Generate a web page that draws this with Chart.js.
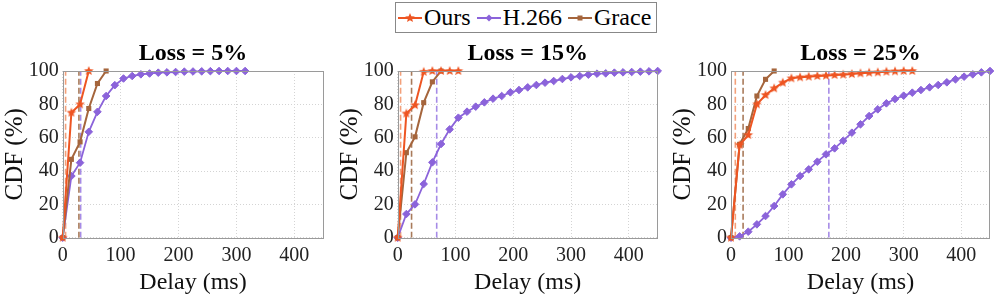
<!DOCTYPE html>
<html>
<head>
<meta charset="utf-8">
<script src="https://cdn.jsdelivr.net/npm/chart.js@4.4.1/dist/chart.umd.min.js"></script>
<style>
  body { margin: 0; background: #fff; }
  #wrap { position: relative; width: 996px; height: 297px; overflow: hidden; font-family: "Liberation Serif", "Times New Roman", Tinos, "DejaVu Serif", serif; }
  .panel { position: absolute; top: 0; height: 297px; }
  #legend {
    position: absolute; left: 395px; top: 2px; height: 29px;
    border: 1px solid #888; display: flex; align-items: center;
    padding: 0 5px 0 2px; font-size: 24px; background: #fff; z-index: 2;
  }
  .item { display: flex; align-items: center; margin-right: 6px; }
  .item:last-child { margin-right: 0; }
  .item svg { margin-right: 1px; }
</style>
</head>
<body>
<div id="wrap">
  <div id="legend"></div>
  <div class="panel" style="left:0;width:330px"><canvas id="c1"></canvas></div>
  <div class="panel" style="left:335px;width:330px"><canvas id="c2"></canvas></div>
  <div class="panel" style="left:668px;width:328px"><canvas id="c3"></canvas></div>
</div>
<script>
// delay samples (ms) shared by all curves
const delays = [0, 15, 30, 45, 60, 75, 90, 105, 120, 135, 150, 165, 180, 195, 210, 225,
  240, 255, 270, 285, 300, 315, 330, 345, 360, 375, 390, 405, 420, 435, 450];

const delayTicks = [0, 100, 200, 300, 400];
const cdfTicks = [0, 20, 40, 60, 80, 100];
const lossTitles = ["Loss = 5%", "Loss = 15%", "Loss = 25%"];

// CDF (%) values
const ours5 = [0, 75, 80, 100];
const h266_5 = [0, 37, 45, 63.5, 75.5, 85, 91.5, 95.5, 97, 98, 98.5, 99, 99.2, 99.4, 99.6, 99.7,
  99.8, 99.9, 100, 100, 100, 100];
const grace5 = [0, 47, 57.5, 77.5, 92.5, 100];

const ours15 = [0, 74.5, 79.5, 99.5, 100, 100, 100, 100];
const h266_15 = [0, 14.2, 20, 32.2, 45.2, 56.2, 65, 72, 75.6, 78.6, 81.2, 83.4, 85, 87.2, 88.6, 90.2,
  91.6, 93, 94, 95.2, 96.2, 97, 97.8, 98.4, 98.6, 99, 99.2, 99.4, 99.6, 99.8, 100];
const grace15 = [0, 51, 60.5, 81, 93.5, 100];

const ours25 = [0, 55.6, 61.6, 80, 85.6, 89.6, 93, 95.6, 96.2, 96.6, 97, 97.2, 97.6, 97.8, 98.2, 98.6,
  99, 99.2, 99.6, 99.8, 100, 100];
const h266_25 = [0, 0.8, 3.6, 8, 13, 19, 26, 32, 37, 41, 45.6, 50, 53.6, 58.2, 63, 68,
  73, 77, 80.6, 83.2, 85.2, 87, 88.6, 90.2, 91.6, 93.2, 95, 96.6, 98, 99.2, 100];
const grace25 = [0, 56, 65.5, 85, 95, 100];

// median markers (ms), one per panel
const medOurs = [5, 5, 7.5];
const medH266 = [31, 67.5, 170];
const medGrace = [28, 24, 21];

const cOurs = "#ee5522";
const cH266 = "#8b63da";
const cGrace = "#a5653c";
const fontName = "'Liberation Serif', 'Times New Roman', Tinos, 'DejaVu Serif', serif";

function makeStar(color, r) {
  const s = Math.ceil(r * 2) + 2;
  const c = document.createElement("canvas");
  c.width = c.height = s;
  const ctx = c.getContext("2d");
  ctx.beginPath();
  for (let i = 0; i < 10; i++) {
    const a = -Math.PI / 2 + i * Math.PI / 5;
    const rr = i % 2 === 0 ? r : r * 0.45;
    ctx.lineTo(s / 2 + rr * Math.cos(a), s / 2 + rr * Math.sin(a));
  }
  ctx.closePath();
  ctx.fillStyle = color;
  ctx.fill();
  return c;
}
const star = makeStar(cOurs, 5);

// legend
const legendItems = [
  ["Ours", cOurs, "star"],
  ["H.266", cH266, "diamond"],
  ["Grace", cGrace, "square"]
];
const legend = document.getElementById("legend");
legendItems.forEach(([label, color, shape]) => {
  let mark = "";
  if (shape === "star") {
    const pts = [];
    for (let i = 0; i < 10; i++) {
      const a = -Math.PI / 2 + i * Math.PI / 5;
      const rr = i % 2 === 0 ? 5 : 2.3;
      pts.push((12 + rr * Math.cos(a)).toFixed(2) + "," + (7 + rr * Math.sin(a)).toFixed(2));
    }
    mark = `<polygon points="${pts.join(" ")}" fill="${color}"/>`;
  } else if (shape === "diamond") {
    mark = `<polygon points="12,3.5 15.5,7 12,10.5 8.5,7" fill="${color}"/>`;
  } else {
    mark = `<rect x="9.5" y="4.5" width="5" height="5" fill="${color}"/>`;
  }
  const el = document.createElement("div");
  el.className = "item";
  el.innerHTML = `<svg width="25" height="14"><line x1="0" y1="7" x2="24" y2="7" stroke="${color}" stroke-width="2"/>${mark}</svg><span>${label}</span>`;
  legend.appendChild(el);
});

const boxPlugin = {
  id: "box",
  afterDraw(chart) {
    const a = chart.chartArea;
    const ctx = chart.ctx;
    ctx.save();
    ctx.strokeStyle = "#9a9a9a";
    ctx.lineWidth = 1;
    ctx.strokeRect(Math.round(a.left) + 0.5, Math.round(a.top) + 0.5,
      Math.round(a.right - a.left) - 1, Math.round(a.bottom - a.top));
    ctx.restore();
  }
};

function pts(values) {
  return values.map((v, i) => ({ x: delays[i], y: v }));
}
function vline(x) {
  return [{ x: x, y: 0 }, { x: x, y: 100 }];
}

function makeChart(id, k, ours, h266, grace, yWidth, padRight) {
  const dashed = (x, color) => ({
    data: vline(x), borderColor: color, borderWidth: 1.6, borderDash: [6, 3],
    pointRadius: 0, showLine: true, order: 5
  });
  new Chart(document.getElementById(id), {
    type: "scatter",
    data: {
      datasets: [
        dashed(medOurs[k], "#f3a07a"),
        dashed(medGrace[k], "#a87a5a"),
        dashed(medH266[k], "#a68be6"),
        {
          data: pts(h266), borderColor: cH266, backgroundColor: cH266, borderWidth: 1.8,
          pointStyle: "rectRot", pointRadius: 3.8, pointBorderWidth: 1, showLine: true, clip: false, order: 3
        },
        {
          data: pts(grace), borderColor: cGrace, backgroundColor: cGrace, borderWidth: 2,
          pointStyle: "rect", pointRadius: 3.6, pointBorderWidth: 0, showLine: true, clip: false, order: 2
        },
        {
          data: pts(ours), borderColor: cOurs, backgroundColor: cOurs, borderWidth: 2,
          pointStyle: star, showLine: true, clip: false, order: 1
        }
      ]
    },
    options: {
      responsive: true,
      maintainAspectRatio: false,
      animation: false,
      events: [],
      layout: { padding: { top: 0, right: padRight, bottom: 0, left: 0 } },
      plugins: {
        legend: { display: false },
        tooltip: { enabled: false },
        title: {
          display: true,
          text: lossTitles[k],
          fullSize: false,
          color: "#000",
          font: { family: fontName, size: 24, weight: "bold", lineHeight: 1 },
          padding: { top: 42, bottom: 5 }
        }
      },
      scales: {
        x: {
          type: "linear",
          min: 0,
          max: 450,
          afterBuildTicks: s => { s.ticks = delayTicks.map(v => ({ value: v })); },
          afterFit: s => { s.height = 59.3; },
          grid: { color: "#d4d4d4", drawTicks: false },
          border: { display: false, dash: [1, 2] },
          ticks: { color: "#222", padding: 6, font: { family: fontName, size: 20 } },
          title: {
            display: true, text: "Delay (ms)", color: "#111",
            font: { family: fontName, size: 24 }, padding: { top: 0, bottom: 0 }
          }
        },
        y: {
          min: 0,
          max: 100,
          afterBuildTicks: s => { s.ticks = cdfTicks.map(v => ({ value: v })); },
          afterFit: s => { s.width = yWidth; },
          grid: { color: "#d4d4d4", drawTicks: false },
          border: { display: false, dash: [1, 2] },
          ticks: { color: "#222", padding: 4, font: { family: fontName, size: 20 } },
          title: {
            display: true, text: "CDF (%)", color: "#111",
            font: { family: fontName, size: 25 }, padding: { top: 0, bottom: 0 }
          }
        }
      }
    },
    plugins: [boxPlugin]
  });
}

makeChart("c1", 0, ours5, h266_5, grace5, 62.7, 6.7);
makeChart("c2", 1, ours15, h266_15, grace15, 62.7, 7.3);
makeChart("c3", 2, ours25, h266_25, grace25, 63, 5);
</script>
</body>
</html>
